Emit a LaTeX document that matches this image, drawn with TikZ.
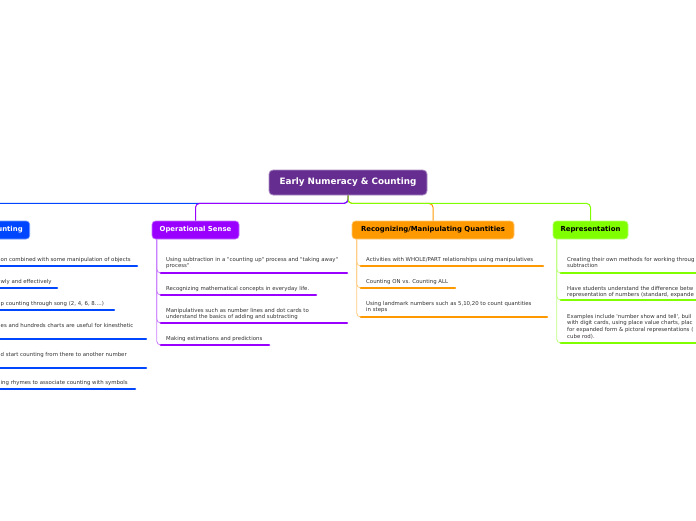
\documentclass[tikz,border=0pt]{standalone}
\usepackage{fontspec}
\setmainfont{DejaVu Sans}[Ligatures=TeXOff]
\definecolor{rootc}{HTML}{662D91}
\definecolor{cblue}{HTML}{0046FF}
\definecolor{cpurp}{HTML}{9900FF}
\definecolor{corange}{HTML}{FF9900}
\definecolor{cgreen}{HTML}{80FF00}
\definecolor{ctext}{HTML}{333333}
\begin{document}
\begin{tikzpicture}[x=1pt,y=-1pt,
 rootbox/.style={fill=rootc, draw=rootc!55!white, line width=0.8pt, rounded corners=4pt, text=white, font=\fontsize{8.8}{10}\selectfont\bfseries, minimum width=158pt, minimum height=25pt, inner sep=0pt},
 branchbox/.style={fill=#1, draw=#1!55!white, line width=0.6pt, rounded corners=3.5pt, font=\fontsize{6.9}{8}\selectfont\bfseries, minimum height=18pt, inner xsep=7pt, inner ysep=0pt},
 link/.style={draw=#1, line width=1pt, rounded corners=4pt},
 stem/.style={draw=#1!50!white, line width=0.8pt, rounded corners=4pt},
 uline/.style={draw=#1, line width=2.6pt, line cap=round},
 leaf/.style={font=\fontsize{5.4}{6.8}\selectfont, text=ctext, align=left, inner sep=0pt, anchor=north west},
]
\useasboundingbox (0,0) rectangle (696,520);
\fill[white] (0,0) rectangle (696,520);
\clip (0,0) rectangle (696,520);

% root and branches
\node[rootbox] (root) at (348,182.5) {Early Numeracy \& Counting};
\node[branchbox=cblue, text=white, anchor=east, text width=56pt, align=right] (cnt) at (30,230) {unting};
\node[branchbox=cpurp, text=white, minimum width=87pt] (ops) at (195.5,230) {Operational Sense};
\node[branchbox=corange, text=black, minimum width=162pt] (rec) at (433,230) {Recognizing/Manipulating Quantities};
\node[branchbox=cgreen, text=black, minimum width=75pt] (rep) at (590.5,230) {Representation};

\draw[link=cblue] (root.south) -- ++(0,8) -| (cnt.north);
\draw[link=corange] (root.south) -- ++(0,8) -| (rec.north);
\draw[link=cpurp] (root.south) -- ++(0,8) -| (ops.north);
\draw[link=cgreen] (root.south) -- ++(0,8) -| (rep.north);

% ---- Counting (left, cut by the edge)
\coordinate (c1a) at (-30,266); \coordinate (c1b) at (137,266);
\coordinate (c2a) at (-30,288); \coordinate (c2b) at (57,288);
\coordinate (c3a) at (-30,310); \coordinate (c3b) at (114,310);
\coordinate (c4a) at (-30,339); \coordinate (c4b) at (146,339);
\coordinate (c5a) at (-30,368); \coordinate (c5b) at (146,368);
\coordinate (c6a) at (-30,389); \coordinate (c6b) at (135,389);
\foreach \i in {1,...,6}{\draw[stem=cblue] ([xshift=5pt]cnt.south west) |- (c\i a);}
\foreach \i in {1,...,6}{\draw[uline=cblue] (c\i a) -- (c\i b);}
\node[leaf] (c1) at (0.5,256.7) {on combined with some manipulation of objects};
\node[leaf] (c2) at (0.5,278.7) {wly and effectively};
\node[leaf] (c3) at (0.5,300.7) {p counting through song (2, 4, 6, 8....)};
\node[leaf] (c4) at (0.5,322.7) {es and hundreds charts are useful for kinesthetic};
\node[leaf] (c5) at (0.5,351.7) {d start counting from there to another number};
\node[leaf] (c6) at (0.5,379.7) {ing rhymes to associate counting with symbols};

% ---- Operational Sense
\coordinate (o1a) at (161,273); \coordinate (o1b) at (347,273);
\coordinate (o2a) at (161,295); \coordinate (o2b) at (316,295);
\coordinate (o3a) at (161,323); \coordinate (o3b) at (347,323);
\coordinate (o4a) at (161,345); \coordinate (o4b) at (269,345);
\foreach \i in {1,...,4}{\draw[stem=cpurp] ([xshift=5pt]ops.south west) |- (o\i a);}
\foreach \i in {1,...,4}{\draw[uline=cpurp] (o\i a) -- (o\i b);}
\node[leaf] (o1) at (166,256.7) {Using subtraction in a "counting up" process and "taking away"\\process"};
\node[leaf] (o2) at (166,285.7) {Recognizing mathematical concepts in everyday life.};
\node[leaf] (o3) at (166,307.7) {Manipulatives such as number lines and dot cards to\\understand the basics of adding and subtracting};
\node[leaf] (o4) at (166,335.7) {Making estimations and predictions};

% ---- Recognizing/Manipulating Quantities
\coordinate (r1a) at (361,266); \coordinate (r1b) at (543,266);
\coordinate (r2a) at (361,288); \coordinate (r2b) at (455,288);
\coordinate (r3a) at (361,317); \coordinate (r3b) at (547,317);
\foreach \i in {1,...,3}{\draw[stem=corange] ([xshift=5pt]rec.south west) |- (r\i a);}
\foreach \i in {1,...,3}{\draw[uline=corange] (r\i a) -- (r\i b);}
\node[leaf] (r1) at (366,256.7) {Activities with WHOLE/PART relationships using manipulatives};
\node[leaf] (r2) at (366,278.7) {Counting ON vs. Counting ALL};
\node[leaf] (r3) at (366,300.7) {Using landmark numbers such as 5,10,20 to count quantities\\in steps};

% ---- Representation (right, cut by the edge)
\coordinate (p1a) at (561,273); \coordinate (p1b) at (747,273);
\coordinate (p2a) at (561,300); \coordinate (p2b) at (747,300);
\coordinate (p3a) at (561,343); \coordinate (p3b) at (747,343);
\foreach \i in {1,...,3}{\draw[stem=cgreen] ([xshift=4pt]rep.south west) |- (p\i a);}
\foreach \i in {1,...,3}{\draw[uline=cgreen] (p\i a) -- (p\i b);}
\node[leaf] (p1) at (567,256.7) {Creating their own methods for working throug\\subtraction};
\node[leaf] (p2) at (567,285.7) {Have students understand the difference betw\\representation of numbers (standard, expande};
\node[leaf] (p3) at (567,313.7) {Examples include 'number show and tell', buil\\with digit cards, using place value charts, plac\\for expanded form \& pictoral representations (\\cube rod).};
\end{tikzpicture}
\end{document}
